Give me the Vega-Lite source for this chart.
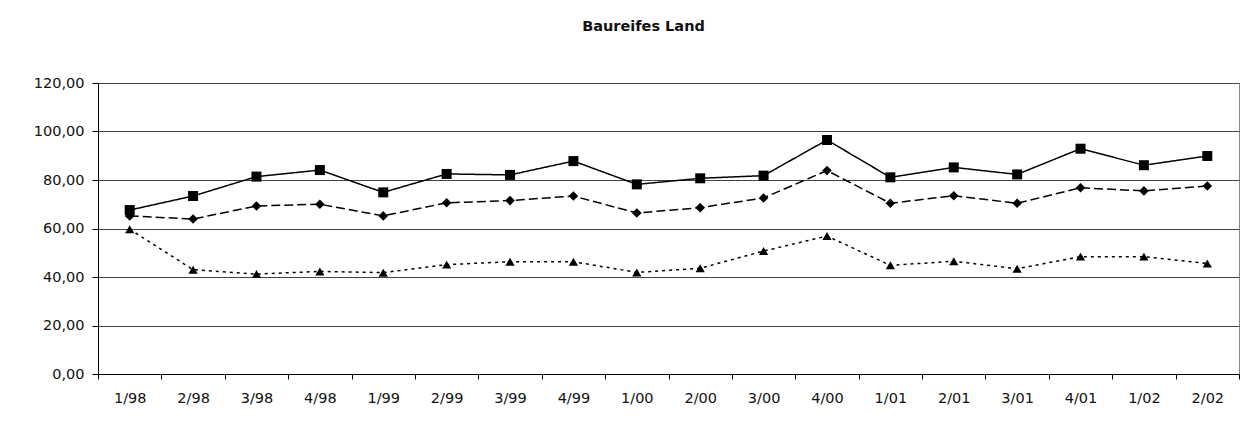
{
  "$schema": "https://vega.github.io/schema/vega-lite/v6.json",
  "autosize": {"type": "none"},
  "width": 1141,
  "height": 291,
  "padding": {"left": 98, "top": 83, "right": 6, "bottom": 55},
  "background": "white",
  "title": {"text": "Baureifes Land", "font": "DejaVu Sans", "fontSize": 14.5, "fontWeight": "bold", "color": "#111", "anchor": "middle", "frame": "group", "offset": 41, "dx": -25},
  "config": {
    "locale": {"number": {"decimal": ",", "thousands": ".", "grouping": [3], "currency": ["", " €"]}},
    "view": {"stroke": "#888", "strokeWidth": 1},
    "axis": {"labelFont": "DejaVu Sans", "labelFontSize": 14.5, "labelColor": "#111", "domainColor": "#000", "tickColor": "#000", "domainWidth": 1, "tickWidth": 1}
  },
  "data": {"values": [
    {"quartal": "1/98", "serie": "Reihe 1", "wert": 67.6},
    {"quartal": "2/98", "serie": "Reihe 1", "wert": 73.4},
    {"quartal": "3/98", "serie": "Reihe 1", "wert": 81.4},
    {"quartal": "4/98", "serie": "Reihe 1", "wert": 84.1},
    {"quartal": "1/99", "serie": "Reihe 1", "wert": 74.9},
    {"quartal": "2/99", "serie": "Reihe 1", "wert": 82.5},
    {"quartal": "3/99", "serie": "Reihe 1", "wert": 82.1},
    {"quartal": "4/99", "serie": "Reihe 1", "wert": 87.8},
    {"quartal": "1/00", "serie": "Reihe 1", "wert": 78.2},
    {"quartal": "2/00", "serie": "Reihe 1", "wert": 80.7},
    {"quartal": "3/00", "serie": "Reihe 1", "wert": 81.8},
    {"quartal": "4/00", "serie": "Reihe 1", "wert": 96.5},
    {"quartal": "1/01", "serie": "Reihe 1", "wert": 81.1},
    {"quartal": "2/01", "serie": "Reihe 1", "wert": 85.2},
    {"quartal": "3/01", "serie": "Reihe 1", "wert": 82.3},
    {"quartal": "4/01", "serie": "Reihe 1", "wert": 92.9},
    {"quartal": "1/02", "serie": "Reihe 1", "wert": 86.1},
    {"quartal": "2/02", "serie": "Reihe 1", "wert": 89.9},
    {"quartal": "1/98", "serie": "Reihe 2", "wert": 65.2},
    {"quartal": "2/98", "serie": "Reihe 2", "wert": 63.9},
    {"quartal": "3/98", "serie": "Reihe 2", "wert": 69.3},
    {"quartal": "4/98", "serie": "Reihe 2", "wert": 70.0},
    {"quartal": "1/99", "serie": "Reihe 2", "wert": 65.2},
    {"quartal": "2/99", "serie": "Reihe 2", "wert": 70.6},
    {"quartal": "3/99", "serie": "Reihe 2", "wert": 71.5},
    {"quartal": "4/99", "serie": "Reihe 2", "wert": 73.4},
    {"quartal": "1/00", "serie": "Reihe 2", "wert": 66.4},
    {"quartal": "2/00", "serie": "Reihe 2", "wert": 68.6},
    {"quartal": "3/00", "serie": "Reihe 2", "wert": 72.6},
    {"quartal": "4/00", "serie": "Reihe 2", "wert": 83.9},
    {"quartal": "1/01", "serie": "Reihe 2", "wert": 70.4},
    {"quartal": "2/01", "serie": "Reihe 2", "wert": 73.5},
    {"quartal": "3/01", "serie": "Reihe 2", "wert": 70.4},
    {"quartal": "4/01", "serie": "Reihe 2", "wert": 76.8},
    {"quartal": "1/02", "serie": "Reihe 2", "wert": 75.5},
    {"quartal": "2/02", "serie": "Reihe 2", "wert": 77.5},
    {"quartal": "1/98", "serie": "Reihe 3", "wert": 59.7},
    {"quartal": "2/98", "serie": "Reihe 3", "wert": 43.0},
    {"quartal": "3/98", "serie": "Reihe 3", "wert": 41.2},
    {"quartal": "4/98", "serie": "Reihe 3", "wert": 42.3},
    {"quartal": "1/99", "serie": "Reihe 3", "wert": 41.8},
    {"quartal": "2/99", "serie": "Reihe 3", "wert": 45.1},
    {"quartal": "3/99", "serie": "Reihe 3", "wert": 46.3},
    {"quartal": "4/99", "serie": "Reihe 3", "wert": 46.3},
    {"quartal": "1/00", "serie": "Reihe 3", "wert": 41.9},
    {"quartal": "2/00", "serie": "Reihe 3", "wert": 43.6},
    {"quartal": "3/00", "serie": "Reihe 3", "wert": 50.7},
    {"quartal": "4/00", "serie": "Reihe 3", "wert": 56.9},
    {"quartal": "1/01", "serie": "Reihe 3", "wert": 44.8},
    {"quartal": "2/01", "serie": "Reihe 3", "wert": 46.5},
    {"quartal": "3/01", "serie": "Reihe 3", "wert": 43.4},
    {"quartal": "4/01", "serie": "Reihe 3", "wert": 48.4},
    {"quartal": "1/02", "serie": "Reihe 3", "wert": 48.4},
    {"quartal": "2/02", "serie": "Reihe 3", "wert": 45.6}
  ]},
  "encoding": {
    "x": {"field": "quartal", "type": "ordinal", "sort": null, "bandPosition": 0.5,
      "scale": {"type": "band", "paddingInner": 0, "paddingOuter": 0},
      "axis": {"title": null, "labelAngle": 0, "tickBand": "extent", "grid": false, "tickSize": 5, "labelPadding": 12}},
    "y": {"field": "wert", "type": "quantitative",
      "scale": {"domain": [0, 120], "nice": false},
      "axis": {"title": null, "values": [0, 20, 40, 60, 80, 100, 120], "format": ".2f", "grid": true, "gridColor": "#444", "gridWidth": 1, "tickSize": 6, "labelPadding": 8}}
  },
  "layer": [
    {
      "mark": {"type": "line", "color": "#000", "strokeWidth": 1.5},
      "encoding": {
        "detail": {"field": "serie"},
        "strokeDash": {"field": "serie", "type": "nominal",
          "scale": {"domain": ["Reihe 1", "Reihe 2", "Reihe 3"], "range": [[1, 0], [9, 4], [3, 4]]},
          "legend": null}
      }
    },
    {
      "mark": {"type": "point", "filled": true, "color": "#000", "opacity": 1},
      "encoding": {
        "shape": {"field": "serie", "type": "nominal",
          "scale": {"domain": ["Reihe 1", "Reihe 2", "Reihe 3"], "range": ["square", "diamond", "triangle-up"]},
          "legend": null},
        "size": {"field": "serie", "type": "nominal",
          "scale": {"domain": ["Reihe 1", "Reihe 2", "Reihe 3"], "range": [100, 85, 140]},
          "legend": null}
      }
    }
  ]
}
